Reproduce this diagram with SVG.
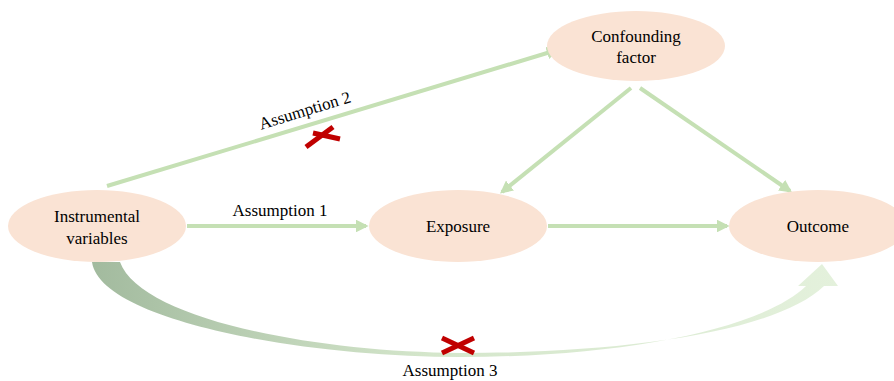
<svg xmlns="http://www.w3.org/2000/svg" width="894" height="381" viewBox="0 0 894 381" font-family="'Liberation Serif', 'Times New Roman', 'DejaVu Serif', serif">
<style>
.node{fill:#fae3d4;}
.lbl{font-family:'Liberation Serif','Times New Roman','DejaVu Serif',serif;font-size:17px;fill:#000;text-anchor:middle;}
.edge{stroke:#c5e0b4;stroke-width:4;fill:none;marker-end:url(#ah);}
.x{stroke:#c00000;stroke-width:5;stroke-linecap:butt;}
</style>
<defs>
<marker id="ah" viewBox="0 0 10 10" refX="8" refY="5" markerWidth="3.2" markerHeight="3.2" orient="auto" markerUnits="strokeWidth">
<path d="M0,0 L10,5 L0,10 Z" fill="#c5e0b4"/>
</marker>
<linearGradient id="g3" x1="90" y1="0" x2="840" y2="0" gradientUnits="userSpaceOnUse">
<stop offset="0" stop-color="#a2ba9e"/>
<stop offset="0.45" stop-color="#d4e6cb"/>
<stop offset="1" stop-color="#e4f1dc"/>
</linearGradient>
</defs>
<g id="connectors">
<line class="edge" x1="187" y1="226" x2="366" y2="226"/>
<line class="edge" x1="548" y1="226" x2="727" y2="226"/>
<line class="edge" x1="107" y1="186" x2="557" y2="50"/>
<line class="edge" x1="631" y1="88" x2="502" y2="192"/>
<line class="edge" x1="640" y1="88" x2="790" y2="191"/>
<path id="assumption3" fill="url(#g3)" d="M92,262 C100,320 300,357 460,357 C620,357 760,330 806,286 L798,286 L822,264 L838,286 L824,286 C775,333 620,353 460,353 C310,352 140,318 120,262 Z"/>
<g id="cross2">
<line class="x" x1="306" y1="147" x2="333" y2="127"/>
<line class="x" x1="313" y1="133" x2="340" y2="139"/>
</g>
<g id="cross3">
<line class="x" x1="442" y1="338" x2="474" y2="353"/>
<line class="x" x1="442" y1="353" x2="474" y2="338"/>
</g>
<text class="lbl" x="280" y="216">Assumption 1</text>
<text class="lbl" x="305" y="116" transform="rotate(-17 305 111)">Assumption 2</text>
<text class="lbl" x="450" y="376">Assumption 3</text>
</g>
<g id="iv">
<ellipse class="node" cx="97" cy="226" rx="89" ry="36"/>
<text class="lbl" x="97" y="222">Instrumental</text>
<text class="lbl" x="97" y="244">variables</text>
</g>
<g id="exposure">
<ellipse class="node" cx="458" cy="226" rx="89" ry="36"/>
<text class="lbl" x="458" y="232">Exposure</text>
</g>
<g id="outcome">
<ellipse class="node" cx="818" cy="226" rx="89" ry="36"/>
<text class="lbl" x="818" y="232">Outcome</text>
</g>
<g id="confounder">
<ellipse class="node" cx="636" cy="46" rx="89" ry="35"/>
<text class="lbl" x="636" y="42">Confounding</text>
<text class="lbl" x="636" y="63">factor</text>
</g>
</svg>
